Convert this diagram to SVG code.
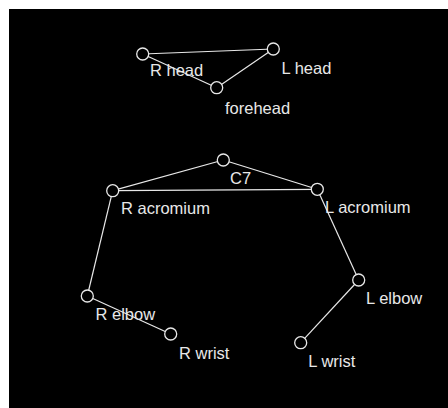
<svg xmlns="http://www.w3.org/2000/svg" width="448" height="408" viewBox="0 0 448 408">
<style>
.edge{stroke:#e8e8e8;stroke-width:1.2;fill:none}
.node circle{fill:#000;stroke:#e8e8e8;stroke-width:1.3}
.node text{fill:#e8e8e8;font-family:"Liberation Sans",Arial,sans-serif;font-size:16.5px}
</style>
<rect x="0" y="0" width="448" height="408" fill="#fff"/>
<rect x="9" y="9" width="439" height="399" fill="#000"/>
<g id="connectors">
<line class="edge" x1="142.7" y1="54" x2="273.3" y2="49"/>
<line class="edge" x1="273.3" y1="49" x2="216.7" y2="87.7"/>
<line class="edge" x1="216.7" y1="87.7" x2="142.7" y2="54"/>
<line class="edge" x1="223.3" y1="160" x2="112.7" y2="190.7"/>
<line class="edge" x1="223.3" y1="160" x2="317.3" y2="189.3"/>
<line class="edge" x1="112.7" y1="190.7" x2="317.3" y2="189.3"/>
<line class="edge" x1="112.7" y1="190.7" x2="87.3" y2="296"/>
<line class="edge" x1="87.3" y1="296" x2="170.7" y2="334"/>
<line class="edge" x1="317.3" y1="189.3" x2="358.7" y2="280"/>
<line class="edge" x1="358.7" y1="280" x2="300.7" y2="342.7"/>
</g>
<g id="r-head" class="node"><circle cx="142.7" cy="54" r="6"/><text x="150" y="76">R head</text></g>
<g id="l-head" class="node"><circle cx="273.3" cy="49" r="6"/><text x="281.5" y="74">L head</text></g>
<g id="forehead" class="node"><circle cx="216.7" cy="87.7" r="6"/><text x="225" y="114">forehead</text></g>
<g id="c7" class="node"><circle cx="223.3" cy="160" r="6"/><text x="230" y="183.5">C7</text></g>
<g id="r-acromium" class="node"><circle cx="112.7" cy="190.7" r="6"/><text x="121" y="214">R acromium</text></g>
<g id="l-acromium" class="node"><circle cx="317.3" cy="189.3" r="6"/><text x="325" y="213">L acromium</text></g>
<g id="r-elbow" class="node"><circle cx="87.3" cy="296" r="6"/><text x="95.5" y="320">R elbow</text></g>
<g id="r-wrist" class="node"><circle cx="170.7" cy="334" r="6"/><text x="179" y="358.5">R wrist</text></g>
<g id="l-elbow" class="node"><circle cx="358.7" cy="280" r="6"/><text x="366" y="303.5">L elbow</text></g>
<g id="l-wrist" class="node"><circle cx="300.7" cy="342.7" r="6"/><text x="308.3" y="366.7">L wrist</text></g>
</svg>
